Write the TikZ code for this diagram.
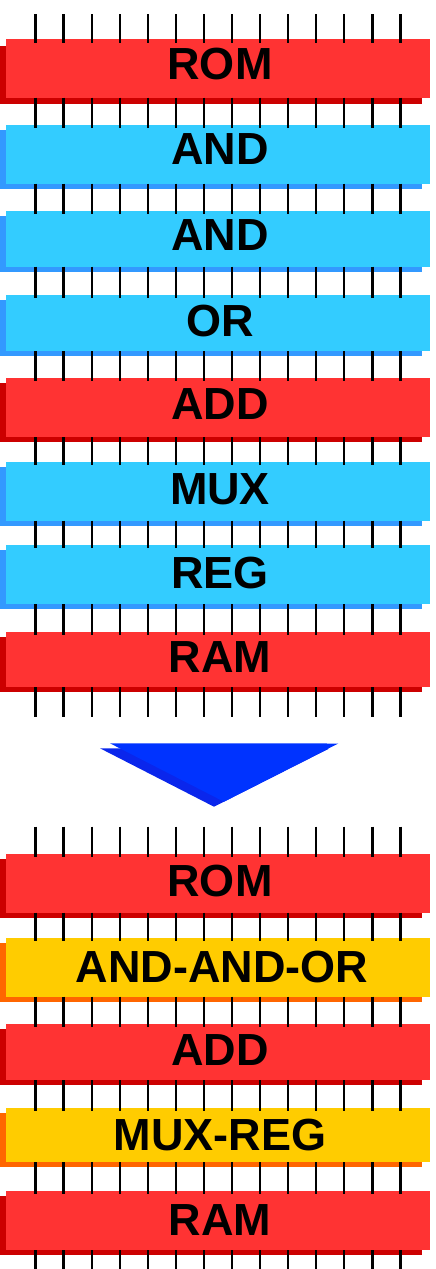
\documentclass[tikz,border=0pt]{standalone}
\usepackage{fontspec}
\setmainfont{Liberation Sans}
\definecolor{redf}{HTML}{FF3333}
\definecolor{reds}{HTML}{CC0000}
\definecolor{bluef}{HTML}{33CCFF}
\definecolor{blues}{HTML}{3399FF}
\definecolor{yelf}{HTML}{FFCC00}
\definecolor{yels}{HTML}{FF6600}
\definecolor{arrf}{HTML}{0033FF}
\definecolor{arrs}{HTML}{0A26EC}
\tikzset{
  lbl/.style={anchor=base, inner sep=0pt, font=\fontsize{45}{45}\selectfont\bfseries},
  tick/.style={line width=2.2pt, black}
}
\newcommand{\blk}[5]{% top, bottom, shadowoffset, color-prefix, name
  \fill[#4s] (0,#1+#3) rectangle (422,#2+#3);
  \fill[#4f] (6,#1) rectangle (430,#2);
}
\begin{document}
\begin{tikzpicture}[x=1pt,y=-1pt]
\useasboundingbox (0,0) rectangle (436,1269);
% top stack
\blk{39}{97.7}{6.6}{red}{rom1}
\blk{125}{183.7}{5}{blue}{and1}
\blk{211}{266.7}{5}{blue}{and2}
\blk{295}{351}{5}{blue}{or}
\blk{378.3}{437.3}{4.5}{red}{add1}
\blk{461.7}{520.7}{5}{blue}{mux}
\blk{545}{604}{5}{blue}{reg}
\blk{631.7}{687.3}{5}{red}{ram1}
% bottom stack
\blk{854}{912.7}{5}{red}{rom2}
\blk{938.3}{996.7}{5}{yel}{aao}
\blk{1024}{1080}{5}{red}{add2}
\blk{1107.7}{1162.3}{5}{yel}{mr}
\blk{1191}{1250}{5}{red}{ram2}
% ticks
\foreach \i in {0,...,13}{
  \pgfmathsetmacro{\xx}{35.5+28.08*\i}
  \foreach \ya/\yb in {14/43,97.7/128,183.7/214,266.7/298,351/381,437.3/465,520.7/548,604/635,687.3/717,
                       826.7/857,912.7/941,996.7/1027,1080/1111,1162.3/1194,1250/1272}{
    \draw[tick] (\xx,\ya) -- (\xx,\yb);
  }
}
% labels
\node[lbl] (trom) at (220,63.4+16) {ROM};
\node[lbl] (tand1) at (220,148+16) {AND};
\node[lbl] (tand2) at (220,234+16) {AND};
\node[lbl] (tor) at (220,320+16) {OR};
\node[lbl] (tadd) at (220,403+16) {ADD};
\node[lbl] (tmux) at (220,488+16) {MUX};
\node[lbl] (treg) at (220,572+16) {REG};
\node[lbl] (tram) at (220,656+16) {RAM};
\node[lbl] (brom) at (220,880+16) {ROM};
\node[lbl] (baao) at (222,966+16) {AND-AND-OR};
\node[lbl] (badd) at (220,1049+16) {ADD};
\node[lbl] (bmr) at (220,1134+16) {MUX-REG};
\node[lbl] (bram) at (220,1219+16) {RAM};
% arrow
\fill[arrs] (100,748.3) -- (328.3,749) -- (214,806.7) -- cycle;
\fill[arrf] (110,743.3) -- (338.3,743.5) -- (224,801.7) -- cycle;
\end{tikzpicture}
\end{document}
